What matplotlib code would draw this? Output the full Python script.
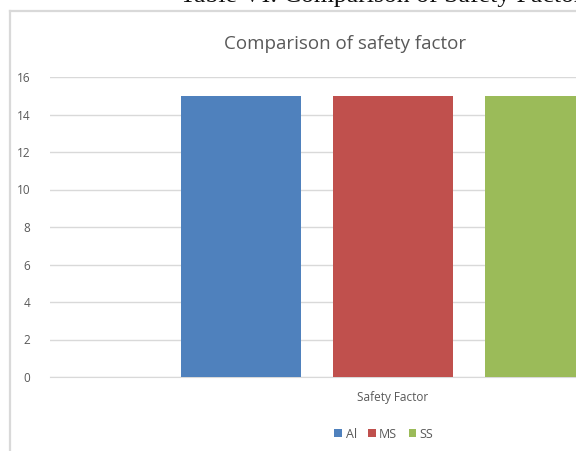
import matplotlib
matplotlib.use("Agg")
import matplotlib.pyplot as plt
from matplotlib.lines import Line2D
from matplotlib.patches import Patch

categories = ["Safety Factor"]
series = ["Al", "MS", "SS"]
values = [15, 15, 15]
colors = ["#4F81BD", "#C0504D", "#9BBB59"]
yticks = [0, 2, 4, 6, 8, 10, 12, 14, 16]

plt.rcParams['font.family'] = ['Open Sans', 'DejaVu Sans']

W, H = 576, 451
fig = plt.figure(figsize=(W / 100, H / 100), dpi=100)

# axes extends beyond right edge (chart is cropped in reference)
left_px, right_px, top_px, bot_px = 50, 736, 77, 377
ax = fig.add_axes([left_px / W, 1 - bot_px / H, (right_px - left_px) / W, (bot_px - top_px) / H])

bw = 120 / 686
step = 152 / 686
for i, (s, v, c) in enumerate(zip(series, values, colors)):
    ax.bar(0 + (i - 1) * step, v, width=bw, color=c, label=s, zorder=3)

ax.set_xlim(-0.5, 0.5)
ax.set_ylim(0, 16)
ax.set_yticks(yticks)
ax.set_yticklabels([str(t) for t in yticks], color="#595959", fontsize=8.5)
ax.yaxis.grid(True, color="#d9d9d9", linewidth=1, zorder=0)
ax.tick_params(axis='both', length=0, pad=14)
ax.set_xticks([0])
ax.set_xticklabels([])
for sp in ["top", "right", "left"]:
    ax.spines[sp].set_visible(False)
ax.spines["bottom"].set_color("#d9d9d9")

fig.text(393 / W, 1 - 397 / H, categories[0], ha="center", va="center", color="#595959", fontsize=8.5)

fig.text(345 / W, 1 - 44 / H, "Comparison of safety factor", ha="center", va="center",
         color="#595959", fontsize=13.5)

# legend
handles = [Patch(facecolor=c, label=s) for s, c in zip(series, colors)]
fig.legend(handles=handles, loc="center", bbox_to_anchor=(384 / W, 1 - 434 / H), ncol=3, frameon=False,
           fontsize=9, handlelength=0.6, handleheight=0.6, handletextpad=0.3, columnspacing=0.9,
           labelcolor="#595959")

# chart frame (cropped)
fig.add_artist(Line2D([9.5 / W, 9.5 / W], [0, 1 - 11 / H], color="#d9d9d9", linewidth=1.6, transform=fig.transFigure))
fig.add_artist(Line2D([9.5 / W, 1], [1 - 11 / H, 1 - 11 / H], color="#d9d9d9", linewidth=1.6, transform=fig.transFigure))

# cropped caption at top (reference shows only its lower edge)
fig.text(180 / W, 1 - 2 / H, "Table VI: Comparison of Safety Factor", ha="left", va="baseline",
         family=["Liberation Serif"], fontsize=18.5, color="#111111")

fig.savefig("out.png", dpi=100)
